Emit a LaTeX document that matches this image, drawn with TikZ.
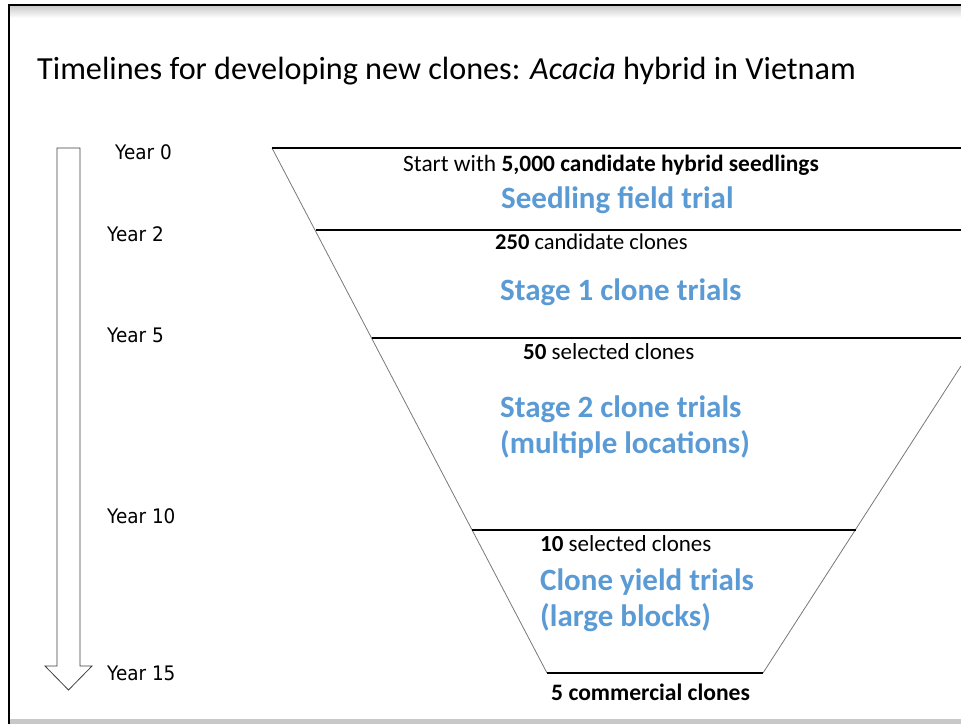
\documentclass[tikz,border=0pt]{standalone}
\usepackage{fontspec}
\setmainfont{Carlito}
\newfontfamily\yearfont[FakeStretch=0.92]{DejaVu Sans}
\definecolor{stageblue}{RGB}{91,155,213}
\definecolor{framegray}{RGB}{200,200,200}
\definecolor{funnelgray}{RGB}{120,120,120}
\begin{document}
\begin{tikzpicture}[x=1pt,y=-1pt,
  lbl/.style={anchor=base west,inner sep=0pt,font=\fontsize{23}{26}\selectfont},
  stagelbl/.style={anchor=base west,inner sep=0pt,align=left,text=stageblue,font=\fontsize{31}{36}\bfseries\selectfont},
  yearlbl/.style={anchor=base west,inner sep=0pt,font=\yearfont\fontsize{20}{22}\selectfont},
  level/.style={draw=black,line width=1.6pt},
  side/.style={draw=funnelgray,line width=0.8pt},
  timearrow/.style={draw=black!75,line width=0.8pt,fill=white}]
\useasboundingbox (0,0) rectangle (961,724);
\fill[white] (0,0) rectangle (961,724);
% frame
\shade[top color=framegray,bottom color=white] (9,5) rectangle (961,18);
\fill[framegray] (9,719) rectangle (961,724);
\draw[line width=1.8pt] (9,724) -- (9,5) -- (961,5);
% title
\node[anchor=base west,inner sep=0pt,font=\fontsize{32.2}{38}\selectfont] (title) at (37,79)
  {Timelines for developing new clones: \textit{Acacia} hybrid in Vietnam};
% time arrow
\draw[timearrow] (57,148) -- (80,148) -- (80,666) -- (92,666) -- (68.5,690) -- (45,666) -- (57,666) -- cycle;
\node[yearlbl] (y0) at (115,159) {Year 0};
\node[yearlbl] (y2) at (107,241) {Year 2};
\node[yearlbl] (y5) at (107,342) {Year 5};
\node[yearlbl] (y10) at (107,523) {Year 10};
\node[yearlbl] (y15) at (107,680) {Year 15};
% funnel
\coordinate (tl) at (272,148);
\coordinate (bl) at (547,673);
\coordinate (br) at (763,673);
\coordinate (tr) at (961,366);
\begin{scope}
\clip (0,0) rectangle (961,724);
\draw[side] (tl) -- (bl);
\draw[side] (br) -- (tr);
\draw[level] (tl) -- (961,148);
\draw[level] (316,230) -- (961,230);
\draw[level] (372,338) -- (961,338);
\draw[level] (472,530) -- (856,530);
\draw[level] (bl) -- (br);
\end{scope}
% texts
\node[lbl,font=\fontsize{23.4}{26}\selectfont] (s0) at (403,171) {Start with \textbf{5,000 candidate hybrid seedlings}};
\node[stagelbl] (st0) at (501,208) {Seedling field trial};
\node[lbl,font=\fontsize{22.5}{26}\selectfont] (s1) at (495,249) {\textbf{250} candidate clones};
\node[stagelbl] (st1) at (500,300) {Stage 1 clone trials};
\node[lbl] (s2) at (523,359) {\textbf{50} selected clones};
\node[stagelbl] (st2) at (500,453) {Stage 2 clone trials\\(multiple locations)};
\node[lbl] (s3) at (540,551) {\textbf{10} selected clones};
\node[stagelbl] (st3) at (540,626) {Clone yield trials\\(large blocks)};
\node[lbl,font=\fontsize{23.6}{26}\bfseries\selectfont] (s4) at (551,700) {5 commercial clones};
\end{tikzpicture}
\end{document}
